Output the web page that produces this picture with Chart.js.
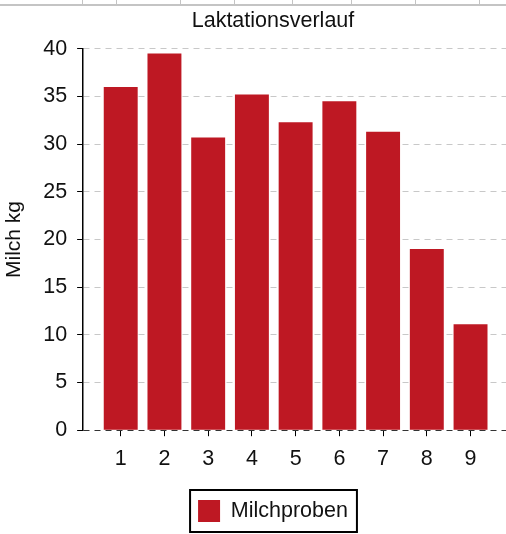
<!DOCTYPE html>
<html>
<head>
<meta charset="utf-8">
<script src="https://cdn.jsdelivr.net/npm/chart.js@4.4.0/dist/chart.umd.min.js"></script>
<style>
    html, body { margin: 0; padding: 0; background: #fff; overflow: hidden; }
    #wrap { position: relative; width: 544px; height: 534px; }
    #topline { position: absolute; left: 0; top: 4px; width: 544px; height: 0; border-top: 2px solid #c4c4c4; }
    .tk { position: absolute; top: 0; width: 0; height: 5px; border-left: 1px solid #c4c4c4; }
</style>
</head>
<body>
<div id="wrap">
    <div id="topline"></div>
    <canvas id="chart" width="544" height="534"></canvas>
</div>
<script>
// --- Data ---
const lactationNumbers = [1, 2, 3, 4, 5, 6, 7, 8, 9];
const milkKg = [36.0, 39.5, 30.7, 35.2, 32.3, 34.5, 31.3, 19.0, 11.1];
const yTicks = [0, 5, 10, 15, 20, 25, 30, 35, 40];

const chartTitle = "Laktationsverlauf";
const yTitle = "Milch kg";
const seriesLabel = "Milchproben";

// decoration strip at the very top (cut-off neighbour table)
[82, 116, 180, 234, 292, 351, 415, 479].forEach(x => {
    const d = document.createElement("div");
    d.className = "tk";
    d.style.left = x + "px";
    document.getElementById("wrap").appendChild(d);
});

const FONT = "'Liberation Sans', Arial, sans-serif";
Chart.defaults.font.family = FONT;
Chart.defaults.color = "#1a1a1a";

// draws the black frame around the legend
const legendFrame = {
    id: "legendFrame",
    afterDraw(chart) {
        const box = chart.legend.legendHitBoxes[0];
        if (!box) return;
        const ctx = chart.ctx;
        ctx.save();
        ctx.strokeStyle = "#000";
        ctx.lineWidth = 2;
        ctx.strokeRect(box.left - 8, box.top - 10, box.width + 17, box.height + 20);
        ctx.restore();
    }
};

const ctx = document.getElementById("chart").getContext("2d");
new Chart(ctx, {
    type: "bar",
    data: {
        datasets: [{
            label: seriesLabel,
            data: lactationNumbers.map((n, i) => ({ x: n, y: milkKg[i] })),
            backgroundColor: "#be1823",
            borderWidth: 0,
            categoryPercentage: 1,
            barPercentage: 0.776
        }]
    },
    plugins: [legendFrame],
    options: {
        responsive: false,
        animation: false,
        layout: { padding: { top: 6, right: 0, bottom: 2, left: 2 } },
        plugins: {
            title: {
                display: true,
                text: chartTitle,
                font: { size: 21.5, weight: "normal" },
                color: "#111",
                padding: { top: 2, bottom: 15 }
            },
            legend: {
                position: "bottom",
                labels: {
                    boxWidth: 22,
                    boxHeight: 22,
                    font: { size: 21.5 },
                    color: "#111",
                    padding: 10
                }
            },
            tooltip: { enabled: false }
        },
        scales: {
            x: {
                type: "linear",
                offset: false,
                min: 0.14,
                max: 10.68,
                afterBuildTicks: axis => { axis.ticks = lactationNumbers.map(v => ({ value: v })); },
                afterFit: axis => { axis.height += 8; },
                ticks: { font: { size: 21.5 }, color: "#111", padding: 10 },
                grid: { offset: false, drawOnChartArea: false, drawTicks: true, tickLength: 6, tickColor: "#000", color: "#000" },
                border: { display: false }
            },
            y: {
                min: 0,
                max: 40,
                afterBuildTicks: axis => { axis.ticks = yTicks.map(v => ({ value: v })); },
                ticks: { font: { size: 21.5 }, color: "#111", padding: 10 },
                title: {
                    display: true,
                    text: yTitle,
                    font: { size: 21 },
                    color: "#111",
                    padding: { top: 0, bottom: 6 }
                },
                grid: {
                    color: c => (c.tick && c.tick.value === 0 ? "#333" : "#c8c8c8"),
                    lineWidth: 1,
                    tickLength: 6,
                    tickColor: "#000"
                },
                border: { display: true, color: "#000", width: 1.5, dash: [6, 5] }
            }
        }
    }
});
</script>
</body>
</html>
